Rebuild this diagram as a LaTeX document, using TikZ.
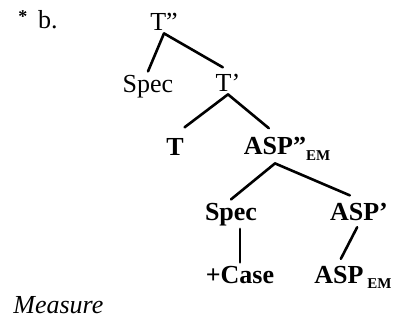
\documentclass[tikz,border=0pt]{standalone}
\usepackage{fontspec}
\setmainfont{Liberation Serif}
\usetikzlibrary{positioning}

\begin{document}
\begin{tikzpicture} [x=0.5pt, y=-0.5pt,
		% define styles
		labelstyle/.style={
			% Placement
			anchor=base,
			% The border:
			inner sep=1.5pt,
			% Font
			font=\fontsize{13}{15}\selectfont
		},
		headstyle/.style={
			labelstyle,
			% Font
			font=\fontsize{13}{15}\selectfont\bfseries
		},
		branch/.style={
			% Thickness
			line width=1.3pt,
			% Color
			black,
			line cap=round
		}]
		% end of style definition
		\useasboundingbox (0,0) rectangle (395,321);

		% draw nodes
		\node (iTitle) [labelstyle, anchor=base west] at (15,28) {\raisebox{3pt}{\fontsize{9}{9}\selectfont\bfseries *}\, b.};
		\node (iTpp) [labelstyle] at (164,30) {T”};
		\node (iSpecA) [labelstyle] at (148,92) {Spec};
		\node (iTp) [labelstyle] at (228,91) {T’};
		\node (iT) [headstyle] at (175,155) {T};
		\node (iAspPP) [headstyle] at (275,154) {ASP”\rlap{\raisebox{-3pt}{\fontsize{7.5}{8}\selectfont EM}}};
		\node (iSpecB) [headstyle] at (231,220) {Spec};
		\node (iAspP) [headstyle] at (359,220) {ASP’};
		\node (iCase) [headstyle] at (240,283) {+Case};
		\node (iAspEm) [headstyle] at (339,283) {ASP\rlap{\raisebox{-2.5pt}{\fontsize{7.5}{8}\selectfont\ EM}}};
		\node (iMeasure) [labelstyle, anchor=base west, font=\fontsize{13}{15}\selectfont\itshape] at (10,313) {Measure};

		% connect nodes
		\draw [branch] (iTpp.south) -- (iSpecA.north);
		\draw [branch, shorten >=3pt] (iTpp.south) -- (iTp.north);
		\draw [branch, shorten >=6pt] (iTp.south) -- (iT.north);
		\draw [branch, shorten >=4pt] (iTp.south) -- (iAspPP.north);
		\draw [branch] (iAspPP.south) -- (iSpecB.north);
		\draw [branch, shorten >=5pt] (iAspPP.south) -- (iAspP.north);
		\draw [branch] (iSpecB.south -| iCase.north) -- (iCase.north);
		\draw [branch, shorten <=2pt, shorten >=2pt] (iAspP.south) -- (iAspEm.north);
	\end{tikzpicture}
\end{document}
